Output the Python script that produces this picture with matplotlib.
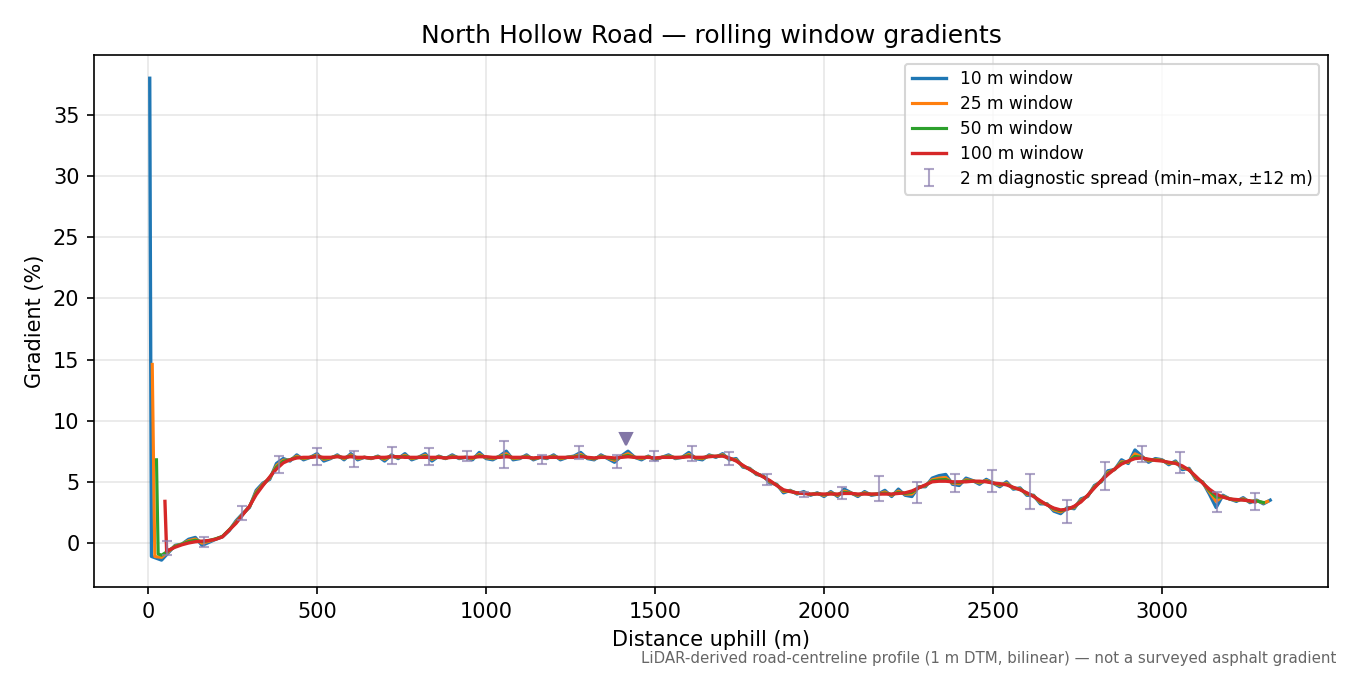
import numpy as np
from matplotlib import pyplot as plt

# distances along the road (m) for each rolling window
dist_10 = np.r_[5, 10, np.arange(20, 3321, 20)]
dist_25 = np.r_[12.5, np.arange(20, 3301, 20), 3312.5]
dist_50 = np.r_[25, 30, np.arange(40, 3301, 20)]
dist_100 = np.r_[50, 55, np.arange(60, 3261, 20), 3275]

grad_10 = [
    38.0, -1.1,
    -1.2, -1.4, -0.8, -0.2, -0.1, 0.3, 0.45, -0.2, 0.05, 0.3,
    0.5, 1.0, 1.8, 2.4, 2.9, 4.3, 4.9, 5.2, 6.5, 6.9,
    6.7, 7.2, 6.8, 7.0, 7.3, 6.7, 6.9, 7.2, 6.8, 7.3,
    6.8, 7.0, 6.9, 7.1, 6.7, 7.2, 6.9, 7.3, 6.8, 7.0,
    7.3, 6.7, 7.1, 6.9, 7.2, 6.9, 7.0, 6.8, 7.4, 6.9,
    6.8, 7.1, 7.5, 6.8, 6.9, 7.2, 6.8, 7.0, 6.9, 7.2,
    6.8, 7.0, 7.1, 7.4, 6.9, 6.8, 7.2, 6.9, 6.6, 7.1,
    7.5, 7.0, 6.8, 7.1, 6.8, 7.0, 7.2, 6.9, 7.0, 7.4,
    6.9, 6.8, 7.2, 7.0, 7.3, 6.8, 6.9, 6.2, 6.1, 5.6,
    5.5, 4.9, 4.8, 4.1, 4.3, 4.0, 4.2, 3.9, 4.1, 3.8,
    4.2, 3.8, 4.4, 4.1, 3.8, 4.2, 3.9, 4.0, 4.3, 3.8,
    4.4, 3.9, 3.8, 4.6, 4.6, 5.3, 5.5, 5.6, 4.8, 4.7,
    5.3, 5.1, 4.8, 5.2, 4.9, 4.6, 5.0, 4.4, 4.5, 3.9,
    3.9, 3.2, 3.2, 2.6, 2.4, 2.9, 2.8, 3.6, 3.8, 4.7,
    5.0, 5.9, 6.0, 6.8, 6.5, 7.6, 7.1, 6.6, 6.9, 6.8,
    6.4, 6.7, 6.0, 6.1, 5.2, 5.0, 4.0, 2.9, 3.9, 3.6,
    3.4, 3.7, 3.3, 3.5, 3.2, 3.5,
]

grad_25 = [
    14.6,
    -1.11, -1.18, -0.71, -0.25, -0.1, 0.19, 0.32, -0.02, 0.14, 0.32,
    0.52, 1.05, 1.71, 2.36, 2.95, 4.17, 4.81, 5.29, 6.32, 6.77,
    6.77, 7.09, 6.89, 7.0, 7.19, 6.84, 6.95, 7.13, 6.89, 7.19,
    6.89, 7.0, 6.92, 7.06, 6.84, 7.13, 6.97, 7.17, 6.89, 7.0,
    7.17, 6.84, 7.06, 6.92, 7.11, 6.95, 7.0, 6.89, 7.24, 6.97,
    6.89, 7.06, 7.3, 6.89, 6.95, 7.11, 6.87, 7.0, 6.95, 7.11,
    6.89, 7.0, 7.06, 7.24, 6.95, 6.87, 7.11, 6.95, 6.76, 7.06,
    7.3, 7.0, 6.89, 7.06, 6.87, 7.0, 7.11, 6.95, 7.0, 7.24,
    6.95, 6.89, 7.13, 7.05, 7.21, 6.87, 6.81, 6.27, 6.06, 5.65,
    5.46, 4.99, 4.76, 4.21, 4.26, 4.05, 4.13, 3.95, 4.06, 3.89,
    4.11, 3.89, 4.24, 4.08, 3.89, 4.11, 3.95, 4.0, 4.17, 3.89,
    4.24, 3.99, 4.0, 4.56, 4.67, 5.17, 5.3, 5.35, 4.89, 4.84,
    5.17, 5.08, 4.91, 5.11, 4.9, 4.71, 4.89, 4.47, 4.43, 3.99,
    3.86, 3.31, 3.16, 2.71, 2.54, 2.83, 2.89, 3.49, 3.85, 4.61,
    5.05, 5.77, 6.02, 6.64, 6.59, 7.29, 7.03, 6.71, 6.83, 6.76,
    6.49, 6.61, 6.14, 6.03, 5.31, 4.96, 4.18, 3.4, 3.83, 3.6,
    3.47, 3.61, 3.37, 3.46, 3.27,
    3.4,
]

grad_50 = [
    6.8, -0.9,
    -1.0, -0.65, -0.28, -0.1, 0.11, 0.22, 0.1, 0.2, 0.34,
    0.54, 1.08, 1.65, 2.33, 2.98, 4.08, 4.75, 5.35, 6.2, 6.68,
    6.81, 7.01, 6.95, 7.0, 7.11, 6.93, 6.98, 7.09, 6.95, 7.11,
    6.95, 7.0, 6.94, 7.03, 6.93, 7.09, 7.01, 7.08, 6.95, 7.0,
    7.08, 6.93, 7.03, 6.94, 7.05, 6.98, 7.0, 6.95, 7.14, 7.01,
    6.95, 7.03, 7.16, 6.95, 6.98, 7.05, 6.91, 7.0, 6.98, 7.05,
    6.95, 7.0, 7.03, 7.14, 6.98, 6.91, 7.05, 6.98, 6.86, 7.03,
    7.16, 7.0, 6.95, 7.03, 6.91, 7.0, 7.05, 6.98, 7.0, 7.14,
    6.98, 6.95, 7.09, 7.08, 7.15, 6.91, 6.75, 6.31, 6.03, 5.68,
    5.43, 5.05, 4.73, 4.29, 4.23, 4.08, 4.09, 3.98, 4.03, 3.95,
    4.05, 3.95, 4.14, 4.06, 3.95, 4.05, 3.98, 4.0, 4.08, 3.95,
    4.14, 4.05, 4.14, 4.53, 4.71, 5.08, 5.16, 5.19, 4.95, 4.93,
    5.08, 5.06, 4.99, 5.05, 4.9, 4.79, 4.81, 4.51, 4.39, 4.05,
    3.83, 3.39, 3.13, 2.79, 2.63, 2.79, 2.95, 3.41, 3.88, 4.55,
    5.08, 5.68, 6.04, 6.54, 6.65, 7.08, 6.99, 6.79, 6.79, 6.73,
    6.55, 6.55, 6.23, 5.99, 5.39, 4.93, 4.3, 3.73, 3.79, 3.6,
    3.51, 3.55, 3.41, 3.43, 3.31,
]

grad_100 = [
    3.4, -0.7,
    -0.6, -0.35, -0.15, 0.0, 0.1, 0.15, 0.2, 0.3,
    0.5, 1.05, 1.6, 2.3, 3.0, 3.95, 4.7, 5.4, 6.05, 6.55,
    6.8, 6.95, 7.0, 7.0, 7.05, 7.0, 7.0, 7.05, 7.0, 7.05,
    7.0, 7.0, 6.95, 7.0, 7.0, 7.05, 7.05, 7.0, 7.0, 7.0,
    7.0, 7.0, 7.0, 6.95, 7.0, 7.0, 7.0, 7.0, 7.05, 7.05,
    7.0, 7.0, 7.05, 7.0, 7.0, 7.0, 6.95, 7.0, 7.0, 7.0,
    7.0, 7.0, 7.0, 7.05, 7.0, 6.95, 7.0, 7.0, 6.95, 7.0,
    7.05, 7.0, 7.0, 7.0, 6.95, 7.0, 7.0, 7.0, 7.0, 7.05,
    7.0, 7.0, 7.05, 7.1, 7.1, 6.95, 6.7, 6.35, 6.0, 5.7,
    5.4, 5.1, 4.7, 4.35, 4.2, 4.1, 4.05, 4.0, 4.0, 4.0,
    4.0, 4.0, 4.05, 4.05, 4.0, 4.0, 4.0, 4.0, 4.0, 4.0,
    4.05, 4.1, 4.25, 4.5, 4.75, 5.0, 5.05, 5.05, 5.0, 5.0,
    5.0, 5.05, 5.05, 5.0, 4.9, 4.85, 4.75, 4.55, 4.35, 4.1,
    3.8, 3.45, 3.1, 2.85, 2.7, 2.75, 3.0, 3.35, 3.9, 4.5,
    5.1, 5.6, 6.05, 6.45, 6.7, 6.9, 6.95, 6.85, 6.75, 6.7,
    6.6, 6.5, 6.3, 5.95, 5.45, 4.9, 4.4, 4.0, 3.75, 3.6,
    3.55, 3.5, 3.45,
    3.35,
]

# 2 m diagnostic spread, min and max within +-12 m
spread_pos = [55, 166, 277, 388, 499, 610, 721, 832, 943, 1054,
              1165, 1276, 1387, 1498, 1609, 1720, 1831, 1942, 2053, 2164,
              2275, 2386, 2497, 2608, 2719, 2830, 2941, 3052, 3163, 3274]
spread_lo = [-1.0, -0.3, 1.9, 5.7, 6.4, 6.25, 6.45, 6.4, 6.7, 6.15,
             6.45, 6.85, 6.15, 6.7, 6.7, 6.4, 4.75, 3.75, 3.6, 3.4,
             3.3, 4.2, 4.2, 2.8, 1.65, 4.3, 6.65, 5.75, 2.5, 2.7]
spread_hi = [0.2, 0.45, 3.0, 7.1, 7.8, 7.55, 7.85, 7.75, 7.55, 8.3,
             7.2, 7.9, 7.2, 7.5, 7.9, 7.4, 5.65, 4.2, 4.6, 5.45,
             5.0, 5.65, 6.0, 5.65, 3.5, 6.6, 7.9, 7.4, 4.2, 4.1]

flag_x = [1414]
flag_y = [8.5]

series = [
    ("10 m window", dist_10, grad_10, "#1f77b4", 1.6),
    ("25 m window", dist_25, grad_25, "#ff7f0e", 1.5),
    ("50 m window", dist_50, grad_50, "#2ca02c", 1.5),
    ("100 m window", dist_100, grad_100, "#d62728", 1.6),
]

fig, ax = plt.subplots(figsize=(9, 4.5), dpi=150)
fig.subplots_adjust(left=0.0696, right=0.9837, top=0.9185, bottom=0.1304)

for name, xs, ys, col, lw in series:
    ax.plot(xs, ys, "-", color=col, lw=lw, label=name)

lo = np.array(spread_lo)
hi = np.array(spread_hi)
mid = (lo + hi) / 2
ax.errorbar(spread_pos, mid, yerr=[mid - lo, hi - mid], fmt="none",
            ecolor="#8c7fb0", elinewidth=1, capsize=2.5, alpha=0.7, zorder=5,
            label="2 m diagnostic spread (min\u2013max, \u00b112 m)")
ax.plot(flag_x, flag_y, "v", color="#8276a6", ms=6, zorder=6)

ax.set_xlim(-160, 3491)
ax.set_ylim(-3.6, 39.9)
ax.grid(True, alpha=0.3)
ax.set_xlabel("Distance uphill (m)")
ax.set_ylabel("Gradient (%)")
ax.set_title("North Hollow Road \u2014 rolling window gradients", fontsize=12)
ax.legend(loc="upper right", fontsize=8.2, labelspacing=0.4)

fig.text(0.99, 0.013,
         "LiDAR-derived road-centreline profile (1 m DTM, bilinear) \u2014 not a surveyed asphalt gradient",
         ha="right", va="bottom", fontsize=7.2, color="#666666")

fig.savefig("out.png", dpi=150)
